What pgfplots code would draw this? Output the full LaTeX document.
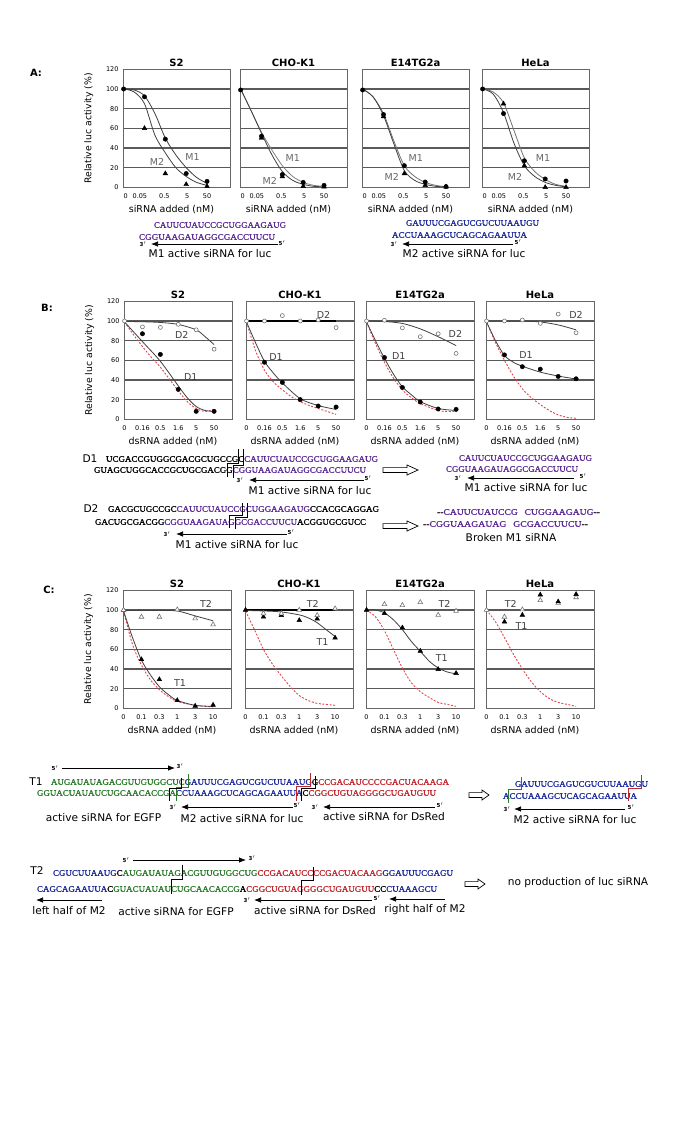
\documentclass[border=0pt]{standalone}
\usepackage{fontspec}
\setmainfont{DejaVu Sans}
\newfontfamily\seqfont{Liberation Serif}[FakeBold=1.2]
\usepackage{graphicx}
\usepackage{pgfplots}
\pgfplotsset{compat=1.18}
\usetikzlibrary{arrows.meta}

\definecolor{spurple}{HTML}{5B2A95}
\definecolor{sblue}{HTML}{1C2A9C}
\definecolor{sgreen}{HTML}{2A7A2A}
\definecolor{sred}{HTML}{C0262C}
\definecolor{rdash}{HTML}{E0454F}

\newcommand\seqn[4]{\node[anchor=west,inner sep=0pt,outer sep=0pt] at (#1,#2) {\resizebox{#3pt}{5.6pt}{\seqfont #4}};}
\newcommand\sarrow[3]{\draw[line width=0.75pt,-{Latex[length=7pt,width=5.5pt]}] (#1,#3) -- (#2,#3);}
\newcommand\prm[3]{\node[font=\fontsize{5.5}{6}\selectfont\bfseries,inner sep=0pt] at (#1,#2) {#3$'$};}
\newcommand\lb[3]{\node[font=\fontsize{10.6}{12}\selectfont,inner sep=0pt] at (#1,#2) {#3};}
\newcommand\harrow[4]{\draw[line width=0.7pt,fill=white] ({#1},{#3-2.4}) -- ({#2-#4},{#3-2.4}) -- ({#2-#4},{#3-5}) -- ({#2},{#3}) -- ({#2-#4},{#3+5}) -- ({#2-#4},{#3+2.4}) -- ({#1},{#3+2.4}) -- cycle;}
\newcommand\stp[6]{\draw[#1,line width=0.6pt] (#2,#3) -- (#2,#4) -- (#5,#4) -- (#5,#6);}

\pgfplotsset{
  panel/.style={
    scale only axis, height=118pt,
    ymin=0, ymax=120, ytick={0,20,...,120}, yticklabels={},
    ymajorgrids, major grid style={draw=black!65, line width=1.2pt},
    axis line style={draw=black!60, line width=0.9pt},
    major tick length=0pt,
    tick label style={font=\fontsize{6.5}{7.5}\selectfont},
    xticklabel style={yshift=-3pt},
    yticklabel style={xshift=-1pt},
    clip=false,
    title style={at={(0.5,1)}, anchor=base, yshift=-3pt, inner sep=0pt, font=\fontsize{10}{12}\selectfont\bfseries},
  },
  rowA/.style={panel, width=107pt, xmin=-0.03, xmax=5.1, xtick={0.1,0.78,1.95,3.05,4.0}, xticklabels={0,0.05,0.5,5,50}},
  rowB/.style={panel, width=108pt, xmin=-0.03, xmax=6, xtick={0,...,5}, xticklabels={0,0.16,0.5,1.6,5,50}},
  rowC/.style={panel, width=108pt, xmin=-0.03, xmax=6, xtick={0,...,5}, xticklabels={0,0.1,0.3,1,3,10}},
  fitc/.style={smooth, no markers, line width=0.8pt, black!75},
  refd/.style={smooth, no markers, line width=0.9pt, color=rdash, dash pattern=on 2pt off 1.6pt},
  fc/.style={only marks, mark=*, mark size=2.2pt, black},
  ft/.style={only marks, mark=triangle*, mark size=2.7pt, black},
  oc/.style={only marks, mark=*, mark size=2pt, black!55, mark options={fill=white, line width=0.6pt}},
  ot/.style={only marks, mark=triangle*, mark size=2.7pt, black!55, mark options={fill=white, line width=0.6pt}},
}
\tikzset{plab/.style={font=\fontsize{9.5}{11}\selectfont, text=black!60, inner sep=0pt},
         dlab/.style={font=\fontsize{9.5}{11}\selectfont, text=black!75, inner sep=0pt}}
\newcommand\xl[1]{\node[font=\fontsize{9.5}{11}\selectfont] at (axis description cs:0.5,0) [xshift=-5pt,yshift=-22pt] {#1};}
\newcommand\yl{\node[rotate=90,font=\fontsize{9.3}{11}\selectfont] at (axis description cs:-0.32,0.5) {Relative luc activity (\%)};}

\begin{document}
\begin{tikzpicture}
\path (0pt,0pt) rectangle (680pt,-1128pt);

%================ ROW A =================
\begin{axis}[rowA, at={(123pt,-187.3pt)}, anchor=south west, title={S2}, yticklabels={0,20,40,60,80,100,120}]
\addplot[fitc] coordinates {(0,100)(0.5,99)(1,93)(1.5,75)(2,50)(2.5,33)(3,20)(3.5,10)(4,4)};
\addplot[fitc] coordinates {(0,100)(0.5,97)(1,85)(1.5,53)(2,35)(2.5,20)(3,11)(3.5,5)(4,2)};
\addplot[fc] coordinates {(0,100)(1,92)(2,49)(3,14)(4,6)};
\addplot[ft] coordinates {(1,60)(2,14)(3,3)(4,1)};
\node[plab] at (axis cs:1.6,26) {M2};
\node[plab] at (axis cs:3.3,31) {M1};
\xl{siRNA added (nM)}\yl
\end{axis}

\begin{axis}[rowA, at={(240pt,-187.3pt)}, anchor=south west, title={CHO-K1}]
\addplot[fitc,black!50] coordinates {(0,100)(0.5,78)(1,56)(1.5,38)(2,22)(2.5,11)(3,5)(3.5,2)(4,1)};
\addplot[fitc] coordinates {(0,100)(0.5,78)(1,55)(1.5,33)(2,16)(2.5,7)(3,3)(3.5,1)(4,0.5)};
\addplot[fc] coordinates {(0,99)(1,52)(2,13)(3,5)(4,2)};
\addplot[ft] coordinates {(1,50)(2,11)(3,1)(4,0.5)};
\node[plab] at (axis cs:2.5,29.5) {M1};
\node[plab] at (axis cs:1.4,6.4) {M2};
\xl{siRNA added (nM)}
\end{axis}

\begin{axis}[rowA, at={(362pt,-187.3pt)}, anchor=south west, title={E14TG2a}]
\addplot[fitc,black!55] coordinates {(0,100)(0.5,92)(1,75)(1.5,47)(2,22)(2.5,11)(3,5)(3.5,2)(4,0.5)};
\addplot[fitc] coordinates {(0,100)(0.5,92)(1,73)(1.5,44)(2,17)(2.5,7)(3,3)(3.5,1)(4,0.3)};
\addplot[fc] coordinates {(0,99)(1,74)(2,22)(3,5.4)(4,0.7)};
\addplot[ft] coordinates {(1,72)(2,14)(3,2)(4,0.5)};
\node[plab] at (axis cs:2.55,29.5) {M1};
\node[plab] at (axis cs:1.4,10) {M2};
\xl{siRNA added (nM)}
\end{axis}

\begin{axis}[rowA, at={(482pt,-187.3pt)}, anchor=south west, title={HeLa}]
\addplot[fitc,black!55] coordinates {(0,100)(0.5,97)(1,86)(1.5,58)(2,30)(2.5,16)(3,8)(3.5,3)(4,1)};
\addplot[fitc] coordinates {(0,100)(0.5,95)(1,76)(1.5,45)(2,22)(2.5,11)(3,5)(3.5,2)(4,0.5)};
\addplot[fc] coordinates {(0,100)(1,75)(2,27)(3,8.5)(4,6.4)};
\addplot[ft] coordinates {(1,85)(2,22)(3,0)(4,0)};
\node[plab] at (axis cs:2.9,29.5) {M1};
\node[plab] at (axis cs:1.55,10) {M2};
\xl{siRNA added (nM)}
\end{axis}

%================ ROW B =================
\begin{axis}[rowB, at={(124pt,-419.3pt)}, anchor=south west, title={S2}, yticklabels={0,20,40,60,80,100,120}]
\addplot[refd] coordinates {(0,99)(0.5,86)(1,74)(1.5,63)(2,53)(2.5,41)(3,29)(3.5,18)(4,11)(4.5,8)(5,10)};
\addplot[fitc] coordinates {(0,99.5)(1,99.2)(2,98.5)(3,96.5)(4,91)(4.5,84)(5,76)};
\addplot[fitc] coordinates {(0,99)(1,79)(2,59)(3,34)(3.5,22)(4,13)(4.5,9)(5,8)};
\addplot[fc] coordinates {(1,87)(2,66)(3,30.4)(4,8.1)(5,8.1)};
\addplot[oc] coordinates {(0,100)(1,94)(2,93.5)(3,96.6)(4,91)(5,71.3)};
\node[dlab] at (axis cs:3.2,85.5) {D2};
\node[dlab] at (axis cs:3.7,43) {D1};
\xl{dsRNA added (nM)}\yl
\end{axis}

\begin{axis}[rowB, at={(246pt,-419.3pt)}, anchor=south west, title={CHO-K1}]
\addplot[refd] coordinates {(0,99)(0.5,70)(1,50)(1.5,38)(2,30)(2.5,23)(3,18)(3.5,14)(4,11)(4.5,8)(5,5)};
\addplot[no markers, line width=1.5pt, black] coordinates {(0,100)(5,100)};
\addplot[fitc] coordinates {(0,99)(0.5,78)(1,59)(1.5,47)(2,37)(3,21)(4,14)(5,10)};
\addplot[fc] coordinates {(1,58)(2,37.5)(3,20)(4,13.5)(5,12.5)};
\addplot[oc] coordinates {(0,100)(1,100)(2,105.5)(3,100)(4,101)(5,93.3)};
\node[dlab] at (axis cs:4.3,105.8) {D2};
\node[dlab] at (axis cs:1.65,63.5) {D1};
\xl{dsRNA added (nM)}
\end{axis}

\begin{axis}[rowB, at={(366pt,-419.3pt)}, anchor=south west, title={E14TG2a}]
\addplot[refd] coordinates {(0,99)(0.5,77)(1,58)(1.5,42)(2,30)(2.5,22)(3,16)(4,9)(4.5,8)(5,8)};
\addplot[fitc] coordinates {(0,100)(1,99.5)(2,97.5)(3,92)(4,84)(5,75)};
\addplot[fitc] coordinates {(0,99)(0.5,80)(1,62)(1.5,46)(2,33)(2.5,25)(3,18)(4,11)(5,9)};
\addplot[fc] coordinates {(1,62.8)(2,32.4)(3,17.6)(4,10.5)(5,10.1)};
\addplot[oc] coordinates {(0,100)(1,100.7)(2,93)(3,84)(4,87)(5,67)};
\node[dlab] at (axis cs:4.96,87) {D2};
\node[dlab] at (axis cs:1.8,64.5) {D1};
\xl{dsRNA added (nM)}
\end{axis}

\begin{axis}[rowB, at={(486pt,-419.3pt)}, anchor=south west, title={HeLa}]
\addplot[refd] coordinates {(0,99)(0.5,78)(1,60)(1.5,44)(2,31)(2.5,22)(3,15)(3.5,9)(4,4.5)(4.5,2)(5,1)};
\addplot[fitc] coordinates {(0,100)(1,100)(2,100)(3,99)(4,96)(5,91)};
\addplot[fitc] coordinates {(0,99)(0.5,80)(1,65)(1.5,58)(2,54)(3,48)(4,44)(5,41)};
\addplot[fc] coordinates {(1,65.5)(2,53.5)(3,51)(4,43.6)(5,41.2)};
\addplot[oc] coordinates {(0,100)(1,100)(2,101)(3,97.6)(4,107)(5,88)};
\node[dlab] at (axis cs:5.0,105.8) {D2};
\node[dlab] at (axis cs:2.2,65) {D1};
\xl{dsRNA added (nM)}
\end{axis}

%================ ROW C =================
\begin{axis}[rowC, at={(123pt,-708.3pt)}, anchor=south west, title={S2}, yticklabels={0,20,40,60,80,100,120}]
\addplot[refd] coordinates {(0,99)(0.5,65)(1,44)(1.5,29)(2,19)(2.5,12)(3,7)(4,3)(5,1.5)};
\addplot[fitc] coordinates {(0,99.5)(1,99.5)(2,99.5)(3,99)(4,94)(5,89)};
\addplot[fitc] coordinates {(0,99)(0.5,72)(1,49)(1.5,34)(2,22)(2.5,14)(3,8)(4,3)(5,2)};
\addplot[ft] coordinates {(0,99.7)(1,49.7)(2,29.4)(3,8.1)(4,2.4)(5,3.4)};
\addplot[ot] coordinates {(0,100)(1,93)(2,93)(3,100.4)(4,91.3)(5,85.2)};
\node[dlab] at (axis cs:4.6,106.5) {T2};
\node[dlab] at (axis cs:3.15,25.4) {T1};
\xl{dsRNA added (nM)}\yl
\end{axis}

\begin{axis}[rowC, at={(245pt,-708.3pt)}, anchor=south west, title={CHO-K1}]
\addplot[refd] coordinates {(0,99)(0.5,80)(1,60)(1.5,45)(2,33)(2.5,22)(3,13)(3.5,8)(4,5)(4.5,4)(5,3)};
\addplot[no markers, line width=1.5pt, black] coordinates {(0,100)(5,100)};
\addplot[fitc] coordinates {(0,99.5)(1,99)(2,98)(3,95)(3.5,92)(4,87)(4.5,80)(5,73)};
\addplot[ft] coordinates {(0,100)(1,93)(2,94.6)(3,89.5)(4,91)(5,71.7)};
\addplot[ot] coordinates {(1,96.4)(2,96.4)(3,100)(4,94.6)(5,101.4)};
\node[dlab] at (axis cs:3.75,106.5) {T2};
\node[dlab] at (axis cs:4.3,67.6) {T1};
\xl{dsRNA added (nM)}
\end{axis}

\begin{axis}[rowC, at={(366pt,-708.3pt)}, anchor=south west, title={E14TG2a}]
\addplot[refd] coordinates {(0,100)(0.5,93)(1,79)(1.5,60)(2,41)(2.5,26)(3,17)(3.5,11)(4,6)(4.5,4)(5,2)};
\addplot[fitc] coordinates {(0,100)(0.5,100)(1,97)(1.5,90)(2,80)(2.5,68)(3,58)(3.5,48)(4,41)(4.5,37)(5,35)};
\addplot[ft] coordinates {(0,100)(1,96.6)(2,82)(3,58.3)(4,39.7)(5,35.7)};
\addplot[ot] coordinates {(1,105.8)(2,104.8)(3,107.8)(4,94.9)(5,99)};
\node[dlab] at (axis cs:4.35,106.5) {T2};
\node[dlab] at (axis cs:4.2,51) {T1};
\xl{dsRNA added (nM)}
\end{axis}

\begin{axis}[rowC, at={(486pt,-708.3pt)}, anchor=south west, title={HeLa}]
\addplot[refd] coordinates {(0,100)(0.5,88)(1,72)(1.5,55)(2,40)(2.5,27)(3,17)(3.5,10)(4,6)(4.5,4)(5,2)};
\addplot[ot] coordinates {(0,100)(1,93)(2,100.4)(3,109.8)(4,107)(5,112.8)};
\addplot[ft] coordinates {(1,88)(2,94.9)(3,115.5)(4,108.5)(5,116)};
\node[dlab] at (axis cs:1.35,106.5) {T2};
\node[dlab] at (axis cs:1.95,83.8) {T1};
\xl{dsRNA added (nM)}
\end{axis}

%================ TEXT / SEQUENCES =================
\begin{scope}[x=1pt,y=-1pt]
\node[font=\fontsize{10}{12}\selectfont\bfseries] at (36,73) {A:};
\node[font=\fontsize{10}{12}\selectfont\bfseries] at (47,308) {B:};
\node[font=\fontsize{10}{12}\selectfont\bfseries] at (49,590) {C:};

% Row A sequences
\seqn{154}{225}{132}{\color{spurple}CAUUCUAUCCGCUGGAAGAUG}
\seqn{139}{237}{136}{\color{spurple}CGGUAAGAUAGGCGACCUUCU}
\sarrow{278}{151}{244}\prm{143}{244}{3}\prm{282}{243}{5}
\lb{210}{254}{M1 active siRNA for luc}
\seqn{406}{223}{133}{\color{sblue}GAUUUCGAGUCGUCUUAAUGU}
\seqn{392}{235}{135}{\color{sblue}ACCUAAAGCUCAGCAGAAUUA}
\sarrow{513}{402}{244}\prm{394}{244}{3}\prm{518}{242}{5}
\lb{464}{254}{M2 active siRNA for luc}

% D1
\lb{90}{459}{D1}
\seqn{106}{459}{272}{UCGACCGUGGCGACGCUGCCGC{\color{spurple}CAUUCUAUCCGCUGGAAGAUG}}
\seqn{94}{470}{272}{GUAGCUGGCACCGCUGCGACGG{\color{spurple}CGGUAAGAUAGGCGACCUUCU}}
\stp{black}{238}{449}{463}{227}{477}
\stp{black}{243}{449}{465}{233}{478}
\sarrow{364}{249}{480}\prm{240}{480}{3}\prm{368}{478}{5}
\lb{310}{491}{M1 active siRNA for luc}
\harrow{383}{418}{470}{11}
\seqn{459}{458}{133}{\color{spurple}CAUUCUAUCCGCUGGAAGAUG}
\seqn{446}{469}{132}{\color{spurple}CGGUAAGAUAGGCGACCUUCU}
\sarrow{574}{467}{478}\prm{458}{478}{3}\prm{583}{476}{5}
\lb{526}{488}{M1 active siRNA for luc}

% D2
\lb{91}{509}{D2}
\seqn{108}{509}{271}{GACGCUGCCGC{\color{spurple}CAUUCUAUCCGCUGGAAGAUG}CCACGCAGGAG}
\seqn{95}{522}{271}{GACUGCGACGG{\color{spurple}CGGUAAGAUAGGCGACCUUCU}ACGGUGCGUCC}
\stp{black}{242}{503}{515}{229}{528}
\stp{black}{247}{503}{517}{235}{529}
\sarrow{287}{176}{534}\prm{167}{534}{3}\prm{291}{532}{5}
\lb{237}{545}{M1 active siRNA for luc}
\harrow{383}{418}{526}{11}
\seqn{437}{512}{163}{{-}{-}{\color{spurple}CAUUCUAUCCG\hspace{0.7em}CUGGAAGAUG}{-}{-}}
\seqn{423}{524}{165}{{-}{-}{\color{spurple}CGGUAAGAUAG\hspace{0.7em}GCGACCUUCU}{-}{-}}
\lb{511}{538}{Broken M1 siRNA}

% T1
\sarrow{62}{175}{768}\prm{55}{768}{5}\prm{180}{766}{3}
\lb{36}{782}{T1}
\seqn{51}{782}{398}{{\color{sgreen}AUGAUAUAGACGUUGUGGCUC}{\color{sblue}GAUUUCGAGUCGUCUUAAUG}G{\color{sred}CCGACAUCCCCGACUACAAGA}}
\seqn{37}{793}{399}{{\color{sgreen}GGUACUAUAUCUGCAACACCGA}{\color{sblue}CCUAAAGCUCAGCAGAAUUA}C{\color{sred}CGGCUGUAGGGGCUGAUGUU}}
\stp{sgreen}{188.3}{774}{787.3}{176.7}{800.7}
\stp{black}{181.7}{778}{788}{169.3}{801}
\stp{sred}{310}{773}{786.3}{296.7}{800.7}
\stp{black}{315}{776}{788}{301.7}{801.3}
\sarrow{293}{181}{807}\prm{173}{807}{3}\prm{297}{805}{5}
\sarrow{435}{323}{807}\prm{315}{807}{3}\prm{440}{805}{5}
\lb{103.5}{818}{active siRNA for EGFP}
\lb{242}{819}{M2 active siRNA for luc}
\lb{384}{817}{active siRNA for DsRed}
\harrow{469}{489}{795}{7}
\seqn{515}{784}{133}{\color{sblue}GAUUUCGAGUCGUCUUAAUGU}
\seqn{503}{796}{134}{\color{sblue}ACCUAAAGCUCAGCAGAAUUA}
\stp{sgreen}{521.7}{777.3}{789.7}{508.3}{803}
\stp{sred}{641.7}{775.3}{788}{628.3}{801.3}
\sarrow{625}{514}{809}\prm{507}{809}{3}\prm{631}{807}{5}
\lb{575}{820}{M2 active siRNA for luc}

% T2
\sarrow{133}{246}{860}\prm{126}{860}{5}\prm{252}{858}{3}
\lb{37}{871}{T2}
\seqn{53}{873}{400}{{\color{sblue}CGUCUUAAUG}C{\color{sgreen}AUGAUAUAGACGUUGUGGCUG}{\color{sred}CCGACAUCCCCGACUACAAG}{\color{sblue}GGAUUUCGAGU}}
\seqn{37}{889}{400}{{\color{sblue}CAGCAGAAUUA}C{\color{sgreen}GUACUAUAUCUGCAACACCG}A{\color{sred}CGGCUGUAGGGGCUGAUGUU}CC{\color{sblue}CUAAAGCU}}
\stp{black}{182.7}{864.7}{879.7}{171}{894}
\stp{black}{313.3}{867.3}{880.3}{301.7}{894.7}
\sarrow{102}{36}{900}
\sarrow{372}{254}{900}\prm{247}{900}{3}\prm{377}{898}{5}
\sarrow{445}{389}{899}
\lb{69}{911}{left half of M2}
\lb{176}{912}{active siRNA for EGFP}
\lb{315}{911}{active siRNA for DsRed}
\lb{425}{910}{right half of M2}
\harrow{465}{485}{884}{7}
\lb{578}{883}{no production of luc siRNA}
\end{scope}
\end{tikzpicture}
\end{document}
